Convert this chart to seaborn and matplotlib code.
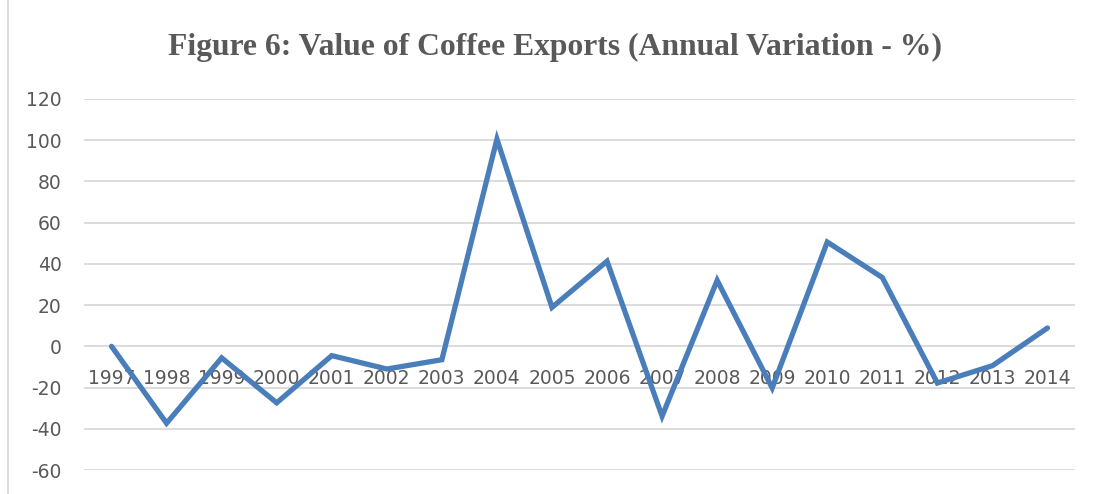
import matplotlib
matplotlib.use("Agg")
import matplotlib.pyplot as plt
import seaborn as sns
import pandas as pd
import numpy as np

years = ["1997", "1998", "1999", "2000", "2001", "2002", "2003", "2004", "2005",
         "2006", "2007", "2008", "2009", "2010", "2011", "2012", "2013", "2014"]
variation = [0.0, -37.3, -5.6, -27.4, -4.5, -11.0, -6.5, 100.5, 18.9,
             41.3, -33.9, 32.0, -20.2, 50.6, 33.4, -17.8, -9.4, 8.9]
y_ticks = [-60, -40, -20, 0, 20, 40, 60, 80, 100, 120]
title = "Figure 6: Value of Coffee Exports (Annual Variation - %)"

sns.set_theme(style="white")
plt.rcParams['font.family'] = ['DejaVu Sans']

df = pd.DataFrame({"idx": np.arange(len(years)), "value": variation})

fig = plt.figure(figsize=(10.94, 4.94), dpi=100)
ax = fig.add_axes([84/1094, 1 - 470/494, (1075 - 84)/1094, (470 - 99)/494])

for t in y_ticks:
    ax.axhline(t, color="#D9D9D9", lw=1.3, zorder=0)

sns.lineplot(data=df, x="idx", y="value", ax=ax, color="#4A7EBB", lw=3.8,
             zorder=3, solid_joinstyle="miter")

ax.spines["bottom"].set_position(("data", 0))
for s in ax.spines.values():
    s.set_visible(False)

ax.set_xlim(-0.5, len(years) - 0.5)
ax.set_ylim(-60, 120)
ax.set_yticks(y_ticks)
ax.set_yticklabels([str(t) for t in y_ticks], color="#595959", fontsize=13.5)
ax.set_xticks(np.arange(len(years)))
ax.set_xticklabels(years, color="#595959", fontsize=13.5)
ax.tick_params(axis="x", length=0, pad=16)
ax.tick_params(axis="y", length=0, pad=16)
for lab in ax.get_xticklabels():
    lab.set_zorder(2)
ax.set_xlabel("")
ax.set_ylabel("")

fig.text(555/1094, 1 - 47/494, title, ha="center", va="center",
         fontsize=22.8, fontweight="bold", color="#595959",
         family=["Liberation Serif"])

fig.add_artist(plt.Line2D([8/1094, 8/1094], [0, 1], color="#D9D9D9", lw=1.3,
                          transform=fig.transFigure))

fig.savefig("out.png", dpi=100, facecolor="white")
